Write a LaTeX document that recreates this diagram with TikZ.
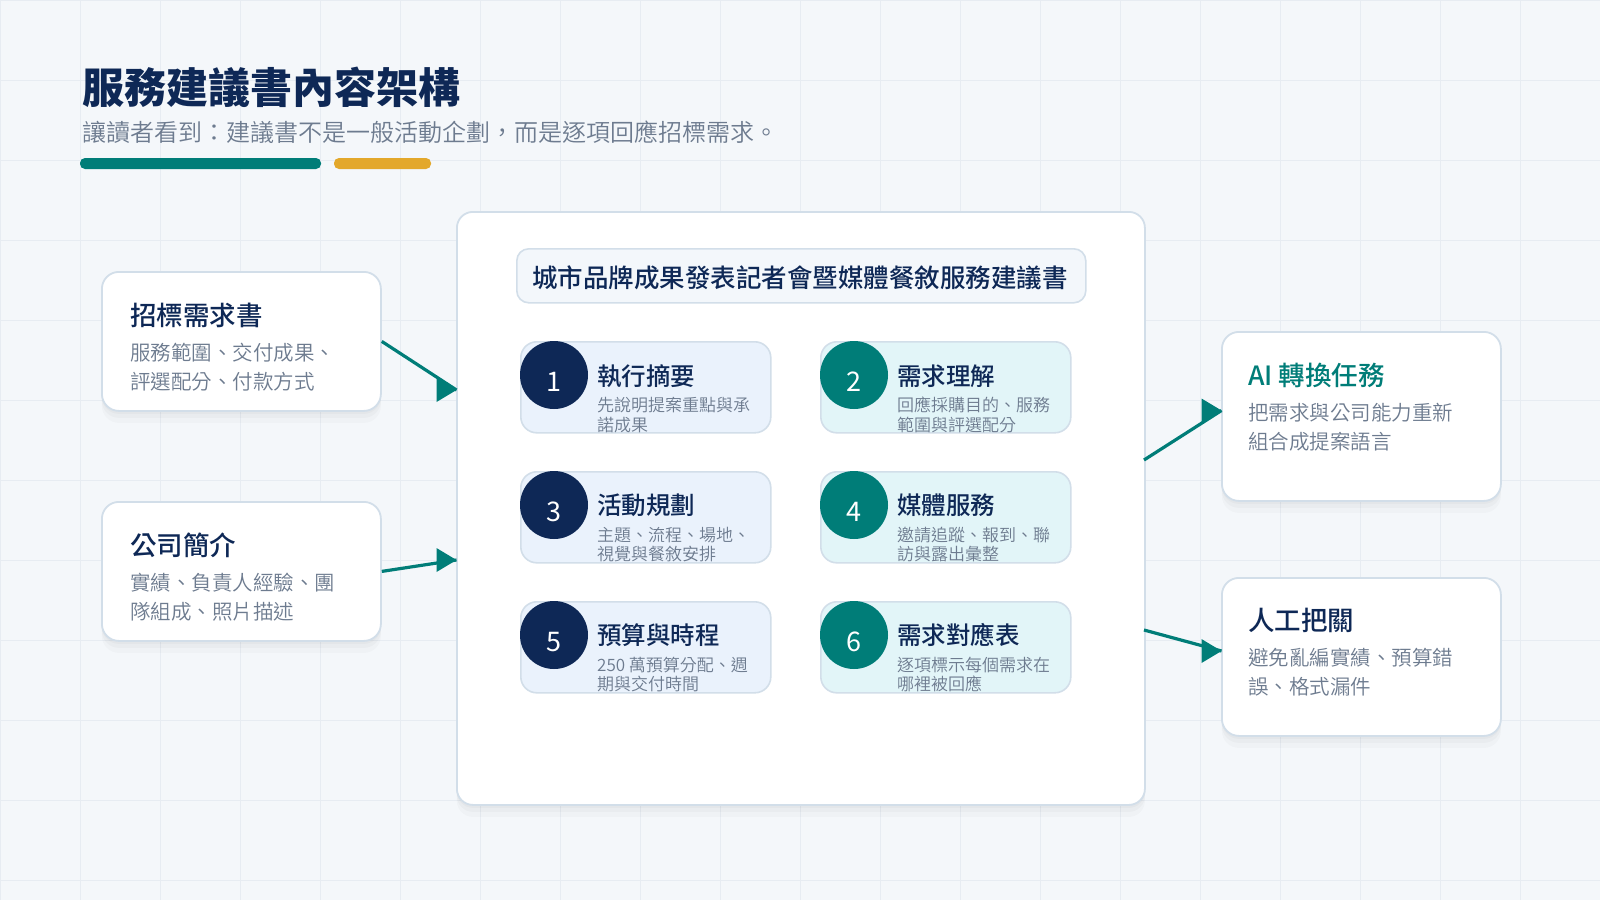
\documentclass[tikz,border=0pt]{standalone}
\usepackage{fontspec}
\setmainfont{Noto Sans CJK TC}
\newfontfamily\medfont{Noto Sans CJK TC Medium}
\newfontfamily\lightfont{Noto Sans CJK TC DemiLight}
\usetikzlibrary{calc}
\definecolor{bgc}{HTML}{F4F7FA}
\definecolor{gridc}{HTML}{E7ECF2}
\definecolor{navy}{HTML}{0E2856}
\definecolor{tealc}{HTML}{007D78}
\definecolor{goldc}{HTML}{E3A82B}
\definecolor{greyt}{HTML}{6D7B8F}
\definecolor{borderc}{HTML}{D2DEE9}
\definecolor{cardblue}{HTML}{EAF2FC}
\definecolor{cardcyan}{HTML}{E2F5F8}
\definecolor{headfill}{HTML}{F3F7FB}
\tikzset{
  shadowed/.style={
    preaction={fill=black,opacity=0.025,transform canvas={yshift=-3pt}},
    preaction={fill=black,opacity=0.025,transform canvas={yshift=-7pt}},
    preaction={fill=black,opacity=0.02,transform canvas={yshift=-12pt}}},
  panel/.style={shadowed, draw=borderc, line width=1.8pt, fill=white, rounded corners=17pt, anchor=north west, inner sep=0pt},
  card/.style={draw=borderc, line width=1.6pt, rounded corners=16pt, anchor=north west, minimum width=250pt, minimum height=91pt, inner sep=0pt},
  numc/.style={circle, minimum size=68pt, inner sep=0pt},
  numt/.style={text=white, inner sep=0pt, font=\fontsize{27pt}{30pt}\selectfont},
  ctitle/.style={anchor=west, inner sep=0pt, text=navy, font=\medfont\fontsize{24.5pt}{28pt}\selectfont},
  cdesc/.style={anchor=west, inner sep=0pt, align=left, text=greyt, font=\lightfont\fontsize{17pt}{19.8pt}\selectfont},
  btitle/.style={anchor=west, inner sep=0pt, text=navy, font=\medfont\fontsize{26.5pt}{30pt}\selectfont},
  bdesc/.style={anchor=west, inner sep=0pt, align=left, text=greyt, font=\lightfont\fontsize{20.5pt}{29pt}\selectfont},
  conn/.style={draw=tealc, line width=3.2pt},
  tip/.style={fill=tealc}
}
\begin{document}
\begin{tikzpicture}[x=1pt,y=-1pt]
\useasboundingbox (0,0) rectangle (1600,900);
\fill[bgc] (0,0) rectangle (1600,900);
\foreach \x in {0,80,...,1600} \draw[gridc, line width=1pt] (\x,0) -- (\x,900);
\foreach \y in {0,80,...,880} \draw[gridc, line width=1pt] (0,\y) -- (1600,\y);

% title
\node[anchor=west, inner sep=0pt, text=navy, font=\bfseries\fontsize{42pt}{48pt}\selectfont] (title) at (82,87.5) {服務建議書內容架構};
\node[anchor=west, inner sep=0pt, text=greyt, font=\lightfont\fontsize{24pt}{28pt}\selectfont] (subtitle) at (82,132.5) {讓讀者看到：建議書不是一般活動企劃，而是逐項回應招標需求。};
\fill[tealc, rounded corners=5pt] (80,158) rectangle (321,169);
\fill[goldc, rounded corners=5pt] (334,158) rectangle (431,169);

% left boxes
\node[panel, minimum width=279pt, minimum height=139pt] (req) at (101,271) {};
\node[btitle] (reqt) at (130,315) {招標需求書};
\node[bdesc] (reqd) at (130,367) {服務範圍、交付成果、\\評選配分、付款方式};

\node[panel, minimum width=279pt, minimum height=139pt] (comp) at (101,501) {};
\node[btitle] (compt) at (130,545) {公司簡介};
\node[bdesc] (compd) at (130,597) {實績、負責人經驗、團\\隊組成、照片描述};

% right boxes
\node[panel, minimum width=279pt, minimum height=169pt] (ai) at (1221,331) {};
\node[btitle, text=tealc] (ait) at (1248,375) {AI 轉換任務};
\node[bdesc] (aid) at (1248,427) {把需求與公司能力重新\\組合成提案語言};

\node[panel, minimum width=279pt, minimum height=158pt] (hum) at (1221,577) {};
\node[btitle] (humt) at (1248,620) {人工把關};
\node[bdesc] (humd) at (1248,672.5) {避免亂編實績、預算錯\\誤、格式漏件};

% main panel
\node[panel, rounded corners=16pt, minimum width=688pt, minimum height=593pt] (main) at (456,211) {};
\node[draw=borderc, line width=1.6pt, fill=headfill, rounded corners=12pt, anchor=north west, minimum width=569pt, minimum height=54pt, inner sep=0pt] (head) at (516,248) {};
\node[inner sep=0pt, text=navy, font=\medfont\fontsize{25.5pt}{28pt}\selectfont] (headt) at (800,277.5) {城市品牌成果發表記者會暨媒體餐敘服務建議書};

% cards
\node[card, fill=cardblue] (k1) at (520,341) {};
\node[numc, fill=navy] (n1) at (554,375) {};
\node[numt] (t1) at ($(n1)+(0,7)$) {1};
\node[ctitle] (h1) at (597,376) {執行摘要};
\node[cdesc] (d1) at (597,415) {先說明提案重點與承\\諾成果};

\node[card, fill=cardcyan] (k2) at (820,341) {};
\node[numc, fill=tealc] (n2) at (854,375) {};
\node[numt] (t2) at ($(n2)+(0,7)$) {2};
\node[ctitle] (h2) at (897,376) {需求理解};
\node[cdesc] (d2) at (897,415) {回應採購目的、服務\\範圍與評選配分};

\node[card, fill=cardblue] (k3) at (520,471) {};
\node[numc, fill=navy] (n3) at (554,505) {};
\node[numt] (t3) at ($(n3)+(0,7)$) {3};
\node[ctitle] (h3) at (597,505) {活動規劃};
\node[cdesc] (d3) at (597,544.5) {主題、流程、場地、\\視覺與餐敘安排};

\node[card, fill=cardcyan] (k4) at (820,471) {};
\node[numc, fill=tealc] (n4) at (854,505) {};
\node[numt] (t4) at ($(n4)+(0,7)$) {4};
\node[ctitle] (h4) at (897,505) {媒體服務};
\node[cdesc] (d4) at (897,544.5) {邀請追蹤、報到、聯\\訪與露出彙整};

\node[card, fill=cardblue] (k5) at (520,601) {};
\node[numc, fill=navy] (n5) at (554,635) {};
\node[numt] (t5) at ($(n5)+(0,7)$) {5};
\node[ctitle] (h5) at (597,635) {預算與時程};
\node[cdesc] (d5) at (597,674.5) {250 萬預算分配、週\\期與交付時間};

\node[card, fill=cardcyan] (k6) at (820,601) {};
\node[numc, fill=tealc] (n6) at (854,635) {};
\node[numt] (t6) at ($(n6)+(0,7)$) {6};
\node[ctitle] (h6) at (897,635) {需求對應表};
\node[cdesc] (d6) at (897,674.5) {逐項標示每個需求在\\哪裡被回應};

% connectors
\coordinate (e1) at (456.5,390);
\coordinate (e2) at (456.5,560);
\coordinate (s3) at (1144,460);
\coordinate (e3) at (1221.5,410.5);
\coordinate (s4) at (1144,630);
\coordinate (e4) at (1221.5,651);
\draw[conn] (req.east) -- (e1);
\fill[tip] (e1) -- ++(-20,-12) -- ++(0,24) -- cycle;
\draw[conn] (comp.east) -- (e2);
\fill[tip] (e2) -- ++(-20,-12) -- ++(0,24) -- cycle;
\draw[conn] (s3) -- (e3);
\fill[tip] (e3) -- ++(-20,-12) -- ++(0,24) -- cycle;
\draw[conn] (s4) -- (e4);
\fill[tip] (e4) -- ++(-20,-12) -- ++(0,24) -- cycle;
\end{tikzpicture}
\end{document}
